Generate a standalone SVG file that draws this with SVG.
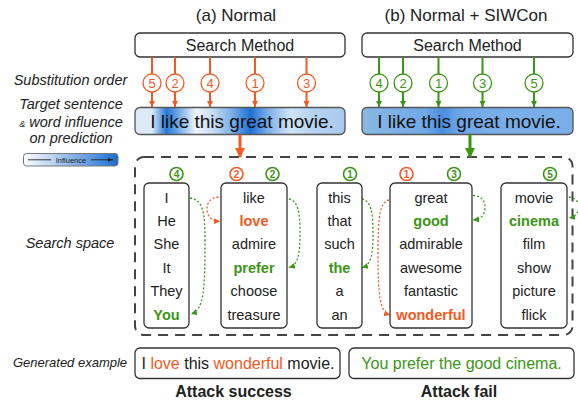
<svg xmlns="http://www.w3.org/2000/svg" width="578" height="402" viewBox="0 0 578 402">
<defs>
<style>
text{font-family:"Liberation Sans",Arial,sans-serif;fill:#222}
.title{font-size:17px;text-anchor:middle}
.lbl{font-size:14.5px;font-style:italic;text-anchor:middle}
.small{font-size:13px}
.box{fill:#fff;stroke:#333;stroke-width:1.3}
.bar{stroke:#555;stroke-width:1.3}
.sent{font-size:19px;text-anchor:middle;fill:#111}
.word{font-size:14.5px;text-anchor:middle}
.og{fill:#f15a22}
.gr{fill:#3a9614}
.b{font-weight:bold}
.oc{fill:#fff;stroke:#f15a22;stroke-width:1.3}
.gc{fill:#fff;stroke:#3a9614;stroke-width:1.3}
.onum{font-size:13px;text-anchor:middle;fill:#f15a22}
.gnum{font-size:13px;text-anchor:middle;fill:#3a9614}
.soc{fill:#fff;stroke:#f15a22;stroke-width:1.6}
.sgc{fill:#fff;stroke:#3a9614;stroke-width:1.6}
.snum{font-size:10px;font-weight:bold;text-anchor:middle}
.ol{stroke:#f15a22;stroke-width:2;fill:none}
.gl{stroke:#3a9614;stroke-width:2;fill:none}
.odot{stroke:#f15a22;stroke-width:1.3;fill:none;stroke-dasharray:2 2}
.gdot{stroke:#3a9614;stroke-width:1.3;fill:none;stroke-dasharray:2 2}
</style>
<marker id="ao" markerUnits="userSpaceOnUse" markerWidth="8" markerHeight="8" refX="6" refY="4" orient="auto"><path d="M0,1 L6,4 L0,7 z" fill="#f15a22"/></marker>
<marker id="ag" markerUnits="userSpaceOnUse" markerWidth="8" markerHeight="8" refX="6" refY="4" orient="auto"><path d="M0,1 L6,4 L0,7 z" fill="#3a9614"/></marker>
<marker id="aoB" markerUnits="userSpaceOnUse" markerWidth="12" markerHeight="12" refX="9" refY="6" orient="auto"><path d="M0,1 L10,6 L0,11 z" fill="#f15a22"/></marker>
<marker id="agB" markerUnits="userSpaceOnUse" markerWidth="12" markerHeight="12" refX="9" refY="6" orient="auto"><path d="M0,1 L10,6 L0,11 z" fill="#3a9614"/></marker>
<marker id="ak" markerUnits="userSpaceOnUse" markerWidth="6" markerHeight="6" refX="5" refY="3" orient="auto"><path d="M0,1 L5,3 L0,5 z" fill="#222"/></marker>
<linearGradient id="gA" x1="135" y1="0" x2="345" y2="0" gradientUnits="userSpaceOnUse">
<stop offset="0" stop-color="#dde9f7"/>
<stop offset="0.08" stop-color="#dceaf8"/>
<stop offset="0.15" stop-color="#2a79d6"/>
<stop offset="0.19" stop-color="#5a9ae0"/>
<stop offset="0.29" stop-color="#eef4fb"/>
<stop offset="0.37" stop-color="#c8dcf3"/>
<stop offset="0.46" stop-color="#7cb0e8"/>
<stop offset="0.55" stop-color="#1f70d4"/>
<stop offset="0.63" stop-color="#78ace8"/>
<stop offset="0.74" stop-color="#d2e3f6"/>
<stop offset="0.85" stop-color="#b6d2f1"/>
<stop offset="1" stop-color="#a8c9ef"/>
</linearGradient>
<linearGradient id="gB" x1="362" y1="0" x2="573" y2="0" gradientUnits="userSpaceOnUse">
<stop offset="0" stop-color="#8ab8e2"/>
<stop offset="0.15" stop-color="#7db0e6"/>
<stop offset="0.3" stop-color="#70a8e6"/>
<stop offset="0.38" stop-color="#4a8edf"/>
<stop offset="0.45" stop-color="#6aa4e6"/>
<stop offset="0.6" stop-color="#78aee8"/>
<stop offset="1" stop-color="#7aaee8"/>
</linearGradient>
<linearGradient id="gL" x1="0" y1="0" x2="1" y2="0">
<stop offset="0" stop-color="#ffffff"/>
<stop offset="1" stop-color="#1a6ed1"/>
</linearGradient>
</defs>
<rect width="578" height="402" fill="#fff"/>

<g id="title-a"><text class="title" x="236" y="21">(a) Normal</text></g>
<g id="title-b"><text class="title" x="466" y="21">(b) Normal + SIWCon</text></g>

<g id="labels">
<text class="lbl" x="70.5" y="85">Substitution order</text>
<text class="lbl" x="71" y="109">Target sentence</text>
<text class="lbl" x="71" y="127"><tspan font-size="9">&amp;</tspan> word influence</text>
<text class="lbl" x="71" y="143">on prediction</text>
<text class="lbl" x="70" y="248">Search space</text>
<text class="lbl small" x="70" y="367">Generated example</text>
</g>

<g id="legend">
<rect x="23.5" y="153.5" width="94.5" height="12.5" rx="3" fill="url(#gL)" stroke="#777" stroke-width="1"/>
<line x1="28" y1="159.8" x2="51" y2="159.8" stroke="#222" stroke-width="0.9"/>
<line x1="91" y1="159.8" x2="113" y2="159.8" stroke="#222" stroke-width="0.9" marker-end="url(#ak)"/>
<text x="71" y="162.5" font-size="7.5" text-anchor="middle">Influence</text>
</g>

<g id="search-a"><rect class="box" x="135" y="33" width="210" height="24" rx="5"/><text x="240" y="51" font-size="16" text-anchor="middle">Search Method</text></g>
<g id="search-b"><rect class="box" x="362" y="33" width="211" height="24" rx="5"/><text x="467.5" y="51" font-size="16" text-anchor="middle">Search Method</text></g>

<g id="sentence-a"><rect class="bar" x="135" y="107.5" width="210" height="27" rx="5" fill="url(#gA)"/><text class="sent" x="242" y="128">I like this great movie.</text></g>
<g id="sentence-b"><rect class="bar" x="362" y="107.5" width="211" height="27" rx="5" fill="url(#gB)"/><text class="sent" x="469" y="128">I like this great movie.</text></g>

<g id="search-space">
<rect x="135" y="157" width="437.5" height="178" rx="9" fill="none" stroke="#444" stroke-width="2" stroke-dasharray="10 7"/>
</g>

<g id="connectors">
<path class="ol" d="M152,57 V74 M152,92 V107" marker-end="url(#ao)"/>
<path class="ol" d="M175,57 V74 M175,92 V107" marker-end="url(#ao)"/>
<path class="ol" d="M210,57 V74 M210,92 V107" marker-end="url(#ao)"/>
<path class="ol" d="M255,57 V74 M255,92 V107" marker-end="url(#ao)"/>
<path class="ol" d="M306.5,57 V74 M306.5,92 V107" marker-end="url(#ao)"/>
<path class="gl" d="M379,57 V74 M379,92 V107" marker-end="url(#ag)"/>
<path class="gl" d="M403,57 V74 M403,92 V107" marker-end="url(#ag)"/>
<path class="gl" d="M438.5,57 V74 M438.5,92 V107" marker-end="url(#ag)"/>
<path class="gl" d="M482.5,57 V74 M482.5,92 V107" marker-end="url(#ag)"/>
<path class="gl" d="M534,57 V74 M534,92 V107" marker-end="url(#ag)"/>
<line x1="240" y1="134.5" x2="240" y2="157" stroke="#f15a22" stroke-width="3" marker-end="url(#aoB)"/>
<line x1="470" y1="134.5" x2="470" y2="157" stroke="#3a9614" stroke-width="3" marker-end="url(#agB)"/>
<path class="gdot" d="M190,198 C203,200 205,212 205,240 C205,290 204,310 191,314" marker-end="url(#ag)"/>
<path class="odot" d="M218.5,197 C210,198 207,203 207,209 C207,216 211,221 220,221.5" marker-end="url(#ao)"/>
<path class="gdot" d="M289,199 C298,201 300,212 300,233 C300,255 298,265 289,267.5" marker-end="url(#ag)"/>
<path class="gdot" d="M362,199 C371,201 373,212 373,233 C373,255 371,265 362,267.5" marker-end="url(#ag)"/>
<path class="odot" d="M389,200 C380,202 378,215 378,255 C378,295 380,312 390,315" marker-end="url(#ao)"/>
<path class="gdot" d="M473,195.5 C482,196 485,201 485,207 C485,214 482,219 473,220" marker-end="url(#ag)"/>
<path class="gdot" d="M569,197 C575,198 579,202 579,207 C579,212 575,217 569,218" marker-end="url(#ag)"/>
</g>

<g id="order-a">
<circle class="oc" cx="152" cy="83" r="9"/><text class="onum" x="152" y="87.5">5</text>
<circle class="oc" cx="175" cy="83" r="9"/><text class="onum" x="175" y="87.5">2</text>
<circle class="oc" cx="210" cy="83" r="9"/><text class="onum" x="210" y="87.5">4</text>
<circle class="oc" cx="255" cy="83" r="9"/><text class="onum" x="255" y="87.5">1</text>
<circle class="oc" cx="306.5" cy="83" r="9"/><text class="onum" x="306.5" y="87.5">3</text>
</g>
<g id="order-b">
<circle class="gc" cx="379" cy="83" r="9"/><text class="gnum" x="379" y="87.5">4</text>
<circle class="gc" cx="403" cy="83" r="9"/><text class="gnum" x="403" y="87.5">2</text>
<circle class="gc" cx="438.5" cy="83" r="9"/><text class="gnum" x="438.5" y="87.5">1</text>
<circle class="gc" cx="482.5" cy="83" r="9"/><text class="gnum" x="482.5" y="87.5">3</text>
<circle class="gc" cx="534" cy="83" r="9"/><text class="gnum" x="534" y="87.5">5</text>
</g>

<g id="col-subject">
<rect class="box" x="144" y="183" width="45" height="145" rx="5"/>
<circle class="sgc" cx="176.5" cy="174" r="6.5"/><text class="snum gr" x="176.5" y="177.5">4</text>
<text class="word" x="166.5" y="202.5">I</text>
<text class="word" x="166.5" y="226">He</text>
<text class="word" x="166.5" y="249.3">She</text>
<text class="word" x="166.5" y="272.7">It</text>
<text class="word" x="166.5" y="296.1">They</text>
<text class="word gr b" x="166.5" y="319.5">You</text>
</g>
<g id="col-verb">
<rect class="box" x="221" y="183" width="66" height="145" rx="5"/>
<circle class="soc" cx="236.5" cy="174" r="6.5"/><text class="snum og" x="236.5" y="177.5">2</text>
<circle class="sgc" cx="272.5" cy="174" r="6.5"/><text class="snum gr" x="272.5" y="177.5">2</text>
<text class="word" x="254" y="202.5">like</text>
<text class="word og b" x="254" y="226">love</text>
<text class="word" x="254" y="249.3">admire</text>
<text class="word gr b" x="254" y="272.7">prefer</text>
<text class="word" x="254" y="296.1">choose</text>
<text class="word" x="254" y="319.5">treasure</text>
</g>
<g id="col-det">
<rect class="box" x="317" y="183" width="45" height="145" rx="5"/>
<circle class="sgc" cx="350" cy="174" r="6.5"/><text class="snum gr" x="350" y="177.5">1</text>
<text class="word" x="339.5" y="202.5">this</text>
<text class="word" x="339.5" y="226">that</text>
<text class="word" x="339.5" y="249.3">such</text>
<text class="word gr b" x="339.5" y="272.7">the</text>
<text class="word" x="339.5" y="296.1">a</text>
<text class="word" x="339.5" y="319.5">an</text>
</g>
<g id="col-adj">
<rect class="box" x="390" y="183" width="82" height="145" rx="5"/>
<circle class="soc" cx="406.5" cy="174" r="6.5"/><text class="snum og" x="406.5" y="177.5">1</text>
<circle class="sgc" cx="454" cy="174" r="6.5"/><text class="snum gr" x="454" y="177.5">3</text>
<text class="word" x="431" y="202.5">great</text>
<text class="word gr b" x="431" y="226">good</text>
<text class="word" x="431" y="249.3">admirable</text>
<text class="word" x="431" y="272.7">awesome</text>
<text class="word" x="431" y="296.1">fantastic</text>
<text class="word og b" x="431" y="319.5">wonderful</text>
</g>
<g id="col-noun">
<rect class="box" x="501" y="183" width="66" height="145" rx="5"/>
<circle class="sgc" cx="550" cy="174" r="6.5"/><text class="snum gr" x="550" y="177.5">5</text>
<text class="word" x="534" y="202.5">movie</text>
<text class="word gr b" x="534" y="226">cinema</text>
<text class="word" x="534" y="249.3">film</text>
<text class="word" x="534" y="272.7">show</text>
<text class="word" x="534" y="296.1">picture</text>
<text class="word" x="534" y="319.5">flick</text>
</g>

<g id="result-a">
<rect class="box" x="135" y="348" width="205" height="30.5" rx="5"/>
<text x="238" y="369" font-size="16" text-anchor="middle"><tspan>I </tspan><tspan class="og">love</tspan><tspan> this </tspan><tspan class="og">wonderful</tspan><tspan> movie.</tspan></text>
<text x="233.5" y="397" font-size="16" font-weight="bold" text-anchor="middle">Attack success</text>
</g>
<g id="result-b">
<rect class="box" x="349" y="348" width="225" height="30.5" rx="5"/>
<text class="gr" x="461.5" y="369" font-size="16" text-anchor="middle">You prefer the good cinema.</text>
<text x="459" y="397" font-size="16" font-weight="bold" text-anchor="middle">Attack fail</text>
</g>
</svg>
